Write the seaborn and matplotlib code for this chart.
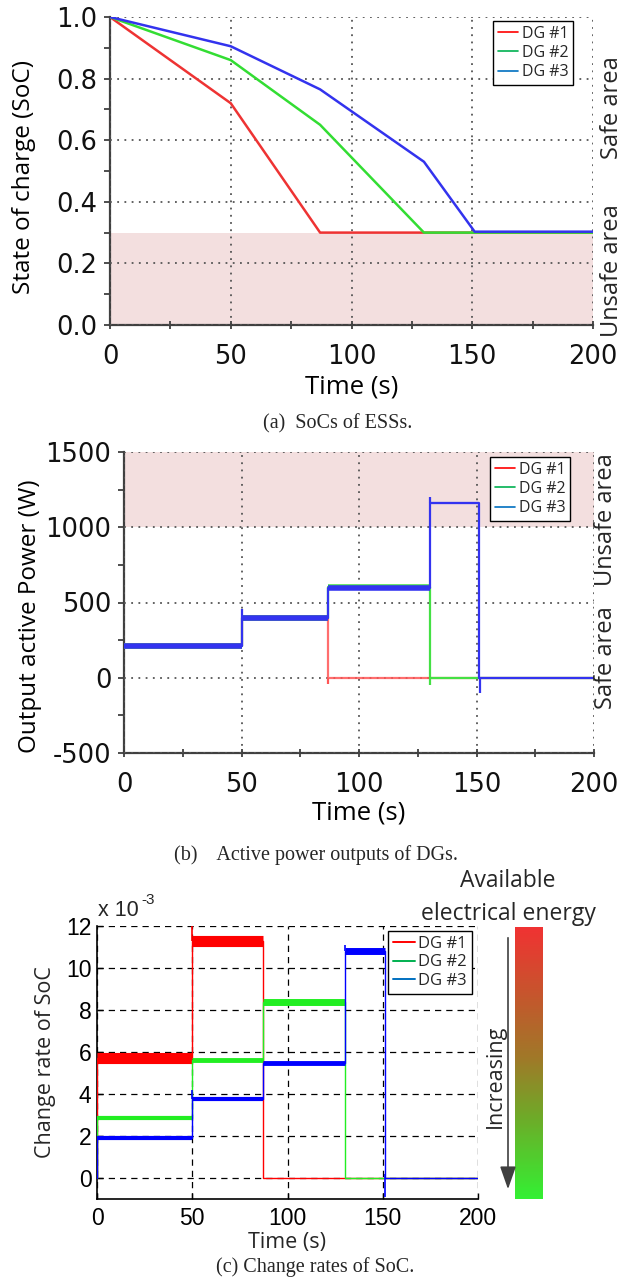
import matplotlib
matplotlib.use("Agg")
import numpy as np
import pandas as pd
import matplotlib.pyplot as plt
import seaborn as sns
from matplotlib.colors import LinearSegmentedColormap
from matplotlib.ticker import MultipleLocator
from matplotlib.lines import Line2D
from matplotlib.patches import FancyArrowPatch
import matplotlib.cm as cm

# ---------------- data ----------------
series_names = ["DG #1", "DG #2", "DG #3"]

# (a) SoC of ESSs: breakpoints (time s, SoC)
soc_t_dg1 = [0, 50, 87, 200]
soc_dg1 = [1.00, 0.72, 0.30, 0.30]
soc_t_dg2 = [0, 50, 87, 130, 200]
soc_dg2 = [1.00, 0.86, 0.65, 0.30, 0.30]
soc_t_dg3 = [0, 50, 87, 130, 151, 200]
soc_dg3 = [1.00, 0.905, 0.765, 0.53, 0.303, 0.303]

# (b) active power (W): step levels starting at given times
p_t_dg1 = [0, 50, 87, 200]
p_dg1 = [210, 400, 0, 0]
p_t_dg2 = [0, 50, 87, 130, 200]
p_dg2 = [210, 400, 605, 0, 0]
p_t_dg3 = [0, 50, 87, 130, 151, 200]
p_dg3 = [210, 400, 598, 1160, 0, 0]
# transients: series index, time, base, tip
p_spike_dg = [2, 0, 1, 2, 2]
p_spike_t = [50, 87, 130, 130, 151.5]
p_spike_base = [400, 0, 0, 1160, 0]
p_spike_tip = [460, -40, -50, 1200, -100]

# (c) change rate of SoC (x 1e-3 per s)
r_t_dg1 = [0, 0, 50, 87, 200]
r_dg1 = [0, 5.7, 11.3, 0, 0]
r_t_dg2 = [0, 0, 50, 87, 130, 200]
r_dg2 = [0, 2.85, 5.6, 8.4, 0, 0]
r_t_dg3 = [0, 0, 50, 87, 130, 151, 200]
r_dg3 = [0, 1.9, 3.75, 5.5, 10.8, 0, 0]
r_spike_dg = [0, 2, 2, 2, 2]
r_spike_t = [50, 50, 130, 151, 151]
r_spike_base = [11.3, 3.75, 10.8, 0, 0]
r_spike_tip = [12.0, 4.2, 11.1, -0.9, 0.2]

# ---------------- style ----------------
sns.set_theme(style="white")
plt.rcParams["font.family"] = ["DejaVu Sans"]
plt.rcParams["axes.unicode_minus"] = False

W, H = 634, 1280
fig = plt.figure(figsize=(W / 100, H / 100), dpi=100)
fig.patch.set_facecolor("white")


def fax(l, t, r, b):
    return fig.add_axes([l / W, 1 - b / H, (r - l) / W, (b - t) / H])


def fx(px):
    return px / W


def fy(py):
    return 1 - py / H


PINK = "#f3dfdf"
LEG_COLORS = ["#ff0000", "#00b050", "#0070c0"]
SANS = ["Open Sans", "DejaVu Sans"]


def legend(ax, right_px, top_px, size, lw, spacing=0.15):
    handles = [Line2D([], [], color=c, lw=lw) for c in LEG_COLORS]
    lg = ax.legend(handles, series_names, loc="upper right",
                   bbox_to_anchor=(fx(right_px), fy(top_px)),
                   bbox_transform=fig.transFigure, frameon=True,
                   fancybox=False, framealpha=1, edgecolor="black",
                   borderpad=0.3, handlelength=1.3, handletextpad=0.2,
                   labelspacing=spacing, borderaxespad=0,
                   prop={"family": SANS, "size": size})
    lg.get_frame().set_linewidth(1.0)
    lg.set_zorder(10)


def step_series(ax, times, values, color, lw, z, band, alpha=1.0):
    df = pd.DataFrame({"t": times, "v": values})
    sns.lineplot(data=df, x="t", y="v", estimator=None, sort=False,
                 drawstyle="steps-post", color=color, lw=lw, ax=ax,
                 zorder=z, legend=False, alpha=alpha)
    for j in range(len(values) - 1):
        if band[j] > 0:
            ax.hlines(values[j], times[j], times[j + 1], color=color,
                      lw=band[j], zorder=z, alpha=alpha, capstyle="butt")


# ================= (a) =================
axA = fax(110, 17, 593, 325)
axA.axhspan(0, 0.3, color=PINK, zorder=0, lw=0)
colA = ["#ee3333", "#33dd33", "#3333ee"]
for i, (t, v) in enumerate([(soc_t_dg1, soc_dg1), (soc_t_dg2, soc_dg2),
                            (soc_t_dg3, soc_dg3)]):
    df = pd.DataFrame({"Time (s)": t, "SoC": v})
    sns.lineplot(data=df, x="Time (s)", y="SoC", estimator=None, ax=axA,
                 color=colA[i], lw=1.8, zorder=3 + i, legend=False)
axA.set_xlim(0, 200)
axA.set_ylim(0, 1.0)
axA.xaxis.set_major_locator(MultipleLocator(50))
axA.xaxis.set_minor_locator(MultipleLocator(25))
axA.yaxis.set_major_locator(MultipleLocator(0.2))
axA.yaxis.set_minor_locator(MultipleLocator(0.1))
axA.yaxis.set_major_formatter(matplotlib.ticker.FormatStrFormatter("%.1f"))

# ================= (b) =================
axB = fax(124, 452, 594, 753)
axB.axhspan(1000, 1500, color=PINK, zorder=0, lw=0)
colB = ["#ff5555", "#44e044", "#3333f0"]
bandB = [[4, 4, 0, 0], [4, 4, 4, 0, 0], [4, 4, 4, 1.5, 0, 0]]
pdata = [(p_t_dg1, p_dg1), (p_t_dg2, p_dg2), (p_t_dg3, p_dg3)]
for i, (t, v) in enumerate(pdata):
    step_series(axB, t, v, colB[i], 1.6, 3 + i, bandB[i],
                alpha=0.85 if i == 0 else 1.0)
for k in range(len(p_spike_t)):
    i = p_spike_dg[k]
    axB.vlines(p_spike_t[k], p_spike_base[k], p_spike_tip[k],
               color=colB[i], lw=1.6, zorder=3 + i)
axB.set_xlim(0, 200)
axB.set_ylim(-500, 1500)
axB.xaxis.set_major_locator(MultipleLocator(50))
axB.xaxis.set_minor_locator(MultipleLocator(25))
axB.yaxis.set_major_locator(MultipleLocator(500))
axB.yaxis.set_minor_locator(MultipleLocator(250))

for ax, ylab, ylx, yly in [(axA, "State of charge (SoC)", -0.178, 0.48),
                           (axB, "Output active Power (W)", -0.200, 0.455)]:
    for s in ["top", "right"]:
        ax.spines[s].set_visible(False)
    for s in ["left", "bottom"]:
        ax.spines[s].set_color("#404040")
        ax.spines[s].set_linewidth(1.6)
    ax.grid(True, which="major", color="#555555", ls=(0, (1, 3)), lw=1.3)
    ax.set_axisbelow(False)
    ax.tick_params(axis="x", which="both", direction="inout", length=6,
                   width=1.3, color="#404040", labelsize=18.5, pad=11,
                   bottom=True)
    ax.tick_params(axis="y", which="both", direction="out", length=4,
                   width=1.3, color="#404040", labelsize=18.5, pad=5, left=True)
    ax.set_xlabel("Time (s)", family=SANS, fontsize=18.5, color="black")
    ax.set_ylabel(ylab, family=SANS, fontsize=17.5, color="black")
    ax.xaxis.set_label_coords(0.5, -0.2)
    ax.xaxis.label.set_va("center")
    ax.yaxis.set_label_coords(ylx, yly)
    ax.yaxis.label.set_va("center")
    for lab in ax.get_xticklabels() + ax.get_yticklabels():
        lab.set_color("#111111")

legend(axA, 573, 21, 11.5, 1.2, 0.2)
legend(axB, 570, 457, 11.5, 1.2, 0.2)

fig.text(fx(612), fy(108), "Safe area", rotation=90, ha="center",
         va="center", family=SANS, fontsize=17)
fig.text(fx(612), fy(271), "Unsafe area", rotation=90, ha="center",
         va="center", family=SANS, fontsize=17)
fig.text(fx(606), fy(520), "Unsafe area", rotation=90, ha="center",
         va="center", family=SANS, fontsize=17)
fig.text(fx(606), fy(658), "Safe area", rotation=90, ha="center",
         va="center", family=SANS, fontsize=17)

# ================= (c) =================
axC = fax(97, 926, 478, 1199)
colC = ["#ff0000", "#22ee22", "#0000ff"]
bandC = [[0, 8, 8, 0, 0],
         [0, 3, 3.5, 5, 0, 0],
         [0, 3, 3, 3.5, 5, 0, 0]]
rdata = [(r_t_dg1, r_dg1), (r_t_dg2, r_dg2), (r_t_dg3, r_dg3)]
for i, (t, v) in enumerate(rdata):
    step_series(axC, t, v, colC[i], 1.0, 3 + i, bandC[i], alpha=1.0)
for k in range(len(r_spike_t)):
    i = r_spike_dg[k]
    axC.vlines(r_spike_t[k], r_spike_base[k], r_spike_tip[k],
               color=colC[i], lw=1.2, zorder=3 + i)
axC.set_xlim(0, 200)
axC.set_ylim(-1, 12)
axC.xaxis.set_major_locator(MultipleLocator(50))
axC.yaxis.set_major_locator(MultipleLocator(2))
for s in ["top", "right"]:
    axC.spines[s].set_visible(False)
for s in ["left", "bottom"]:
    axC.spines[s].set_color("black")
    axC.spines[s].set_linewidth(1.2)
axC.grid(True, which="major", color="black", ls=(0, (5, 4)), lw=0.9)
axC.set_axisbelow(True)
axC.tick_params(axis="both", direction="in", length=4, width=1.0,
                color="black", labelsize=16.5, bottom=True, left=True)
axC.tick_params(axis="x", pad=6)
axC.tick_params(axis="y", pad=4)
for lab in axC.get_xticklabels() + axC.get_yticklabels():
    lab.set_family(["Liberation Sans", "DejaVu Sans"])
    lab.set_color("black")
axC.set_xlabel("Time (s)", family=SANS, fontsize=15.5)
axC.set_ylabel("Change rate of SoC", family=SANS, fontsize=15.5)
axC.xaxis.set_label_coords(0.5, -0.158)
axC.xaxis.label.set_va("center")
axC.yaxis.set_label_coords(-0.134, 0.5)
axC.yaxis.label.set_va("center")
legend(axC, 472, 931, 12, 1.4)

fig.text(fx(98), fy(911), "x 10", ha="left", va="center",
         family=["Liberation Sans", "DejaVu Sans"], fontsize=15.5)
fig.text(fx(141), fy(900), "-3", ha="left", va="center",
         family=["Liberation Sans", "DejaVu Sans"], fontsize=11)

# colour bar
cmap = LinearSegmentedColormap.from_list(
    "energy", [(0.0, "#33f033"), (0.3, "#6eaa28"), (0.52, "#a07828"),
               (0.72, "#c05a2c"), (1.0, "#f03232")])
cax = fax(515, 927, 543, 1199)
cb = fig.colorbar(cm.ScalarMappable(cmap=cmap), cax=cax)
cb.set_ticks([])
cb.outline.set_visible(False)
fig.text(fx(508), fy(881), "Available", ha="center", va="center",
         family=SANS, fontsize=16.5)
fig.text(fx(508), fy(914), "electrical energy", ha="center", va="center",
         family=SANS, fontsize=16.5)
fig.add_artist(FancyArrowPatch((fx(508), fy(935)), (fx(508), fy(1192)),
                               transform=fig.transFigure,
                               arrowstyle="-|>,head_length=1.0,head_width=0.35",
                               mutation_scale=14, color="#404040", lw=1.2))
fig.text(fx(495), fy(1076), "Increasing", rotation=90, ha="center",
         va="center", family=SANS, fontsize=15.5)

# captions
SERIF = ["Liberation Serif", "DejaVu Serif"]
fig.text(fx(338), fy(424), "(a)  SoCs of ESSs.", ha="center", va="center",
         family=SERIF, fontsize=14.5)
fig.text(fx(316), fy(855), "(b)    Active power outputs of DGs.",
         ha="center", va="center", family=SERIF, fontsize=14.5)
fig.text(fx(315), fy(1267), "(c) Change rates of SoC.", ha="center",
         va="center", family=SERIF, fontsize=14.5)

fig.savefig("out.png", dpi=100, facecolor="white")
